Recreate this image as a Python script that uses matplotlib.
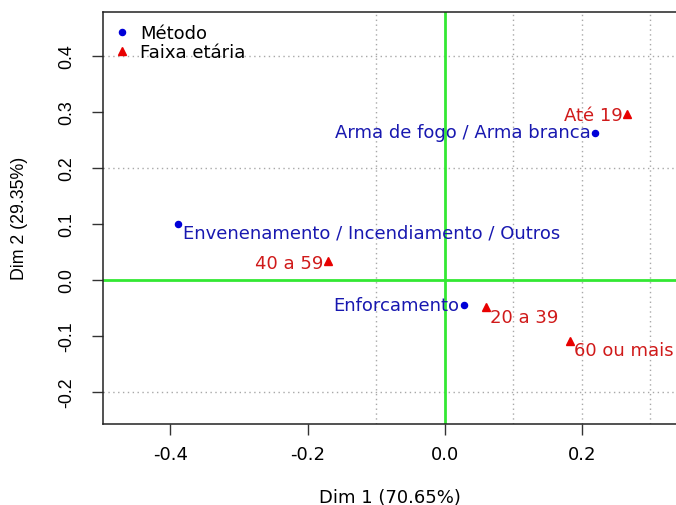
import matplotlib
matplotlib.use("Agg")
import matplotlib.pyplot as plt
from matplotlib.lines import Line2D

# ---- data ----
metodo_labels = ["Arma de fogo / Arma branca", "Envenenamento / Incendiamento / Outros", "Enforcamento"]
metodo_x = [0.220, -0.389, 0.029]
metodo_y = [0.263, 0.100, -0.045]

faixa_labels = ["Até 19", "40 a 59", "20 a 39", "60 ou mais"]
faixa_x = [0.266, -0.170, 0.060, 0.183]
faixa_y = [0.296, 0.034, -0.047, -0.108]

xticks = [-0.4, -0.2, 0.0, 0.2]
xtick_labels = ["-0.4", "-0.2", "0.0", "0.2"]
yticks = [-0.2, -0.1, 0.0, 0.1, 0.2, 0.3, 0.4]
ytick_labels = ["-0.2", "-0.1", "0.0", "0.1", "0.2", "0.3", "0.4"]
grid_x = [-0.1, 0.1, 0.2, 0.3]
grid_y = [-0.2, 0.2, 0.4]
xlabel = "Dim 1 (70.65%)"
ylabel = "Dim 2 (29.35%)"

# label offsets in pixels (dx, dy down positive) and alignment
metodo_off = [(-5, 5, "right"), (5, 14, "left"), (-5, 6, "right")]
faixa_off = [(-4.5, 7, "right"), (-5, 8, "right"), (4, 16, "left"), (4, 15.5, "left")]

BLUE_PT = "#0000D8"
BLUE_TX = "#1818B0"
RED_PT = "#E80000"
RED_TX = "#D01A1A"
GREEN = "#33E833"
FS = 13.0

W, H = 676, 505
fig = plt.figure(figsize=(W / 100, H / 100), dpi=100)
ax = fig.add_axes([103.3 / W, 1 - 424 / H, 1 - 103.3 / W, (424 - 12) / H])
ax.set_xlim(-0.498, 0.3377)
ax.set_ylim(-0.2566, 0.479)

for gx in grid_x:
    ax.axvline(gx, color="#A8A8A8", lw=1.0, ls=(0, (1, 2.5)), zorder=1)
for gy in grid_y:
    ax.axhline(gy, color="#A8A8A8", lw=1.0, ls=(0, (1, 2.5)), zorder=1)
ax.axvline(0, color=GREEN, lw=2.0, zorder=2)
ax.axhline(0, color=GREEN, lw=2.0, zorder=2)

ax.plot(metodo_x, metodo_y, ls="none", marker="o", ms=4.4, color=BLUE_PT, zorder=4)
ax.plot(faixa_x, faixa_y, ls="none", marker="^", ms=6.2, color=RED_PT, zorder=4)

px = 0.72
lab_font = dict(family="DejaVu Sans", size=FS)
for lab, x, y, (dx, dy, ha) in zip(metodo_labels, metodo_x, metodo_y, metodo_off):
    ax.annotate(lab, (x, y), xytext=(dx * px, -dy * px), textcoords="offset points",
                ha=ha, va="baseline", color=BLUE_TX, zorder=5, **lab_font)
for lab, x, y, (dx, dy, ha) in zip(faixa_labels, faixa_x, faixa_y, faixa_off):
    ax.annotate(lab, (x, y), xytext=(dx * px, -dy * px), textcoords="offset points",
                ha=ha, va="baseline", color=RED_TX, zorder=5, **lab_font)

# axes styling
for s in ["left", "bottom", "top"]:
    ax.spines[s].set_linewidth(1.1)
    ax.spines[s].set_color("#222222")
ax.spines["right"].set_visible(False)

ax.set_xticks(xticks)
ax.set_xticklabels(xtick_labels, family="DejaVu Sans", fontsize=FS)
ax.set_yticks(yticks)
ax.set_yticklabels(ytick_labels, family="Liberation Sans", fontsize=12.8, rotation=90, va="center")
ax.tick_params(axis="both", length=8, width=1.0, color="#333333", direction="out")
ax.tick_params(axis="x", pad=8)
ax.tick_params(axis="y", pad=12.5)

ax.set_xlabel(xlabel, family="DejaVu Sans", fontsize=FS, labelpad=17.5)
ax.set_ylabel(ylabel, family="Liberation Sans", fontsize=12.8, labelpad=21.5)

handles = [
    Line2D([], [], ls="none", marker="o", ms=4.4, color=BLUE_PT, label="Método"),
    Line2D([], [], ls="none", marker="^", ms=6.2, color=RED_PT, label="Faixa etária"),
]
ax.legend(handles=handles, loc="upper left", bbox_to_anchor=(-0.006, 1.0), frameon=False,
          prop=dict(family="DejaVu Sans", size=FS), handlelength=1.0, handletextpad=0.55,
          labelspacing=0.05, borderaxespad=0.4, borderpad=0.3)

fig.savefig("out.png", dpi=100)
